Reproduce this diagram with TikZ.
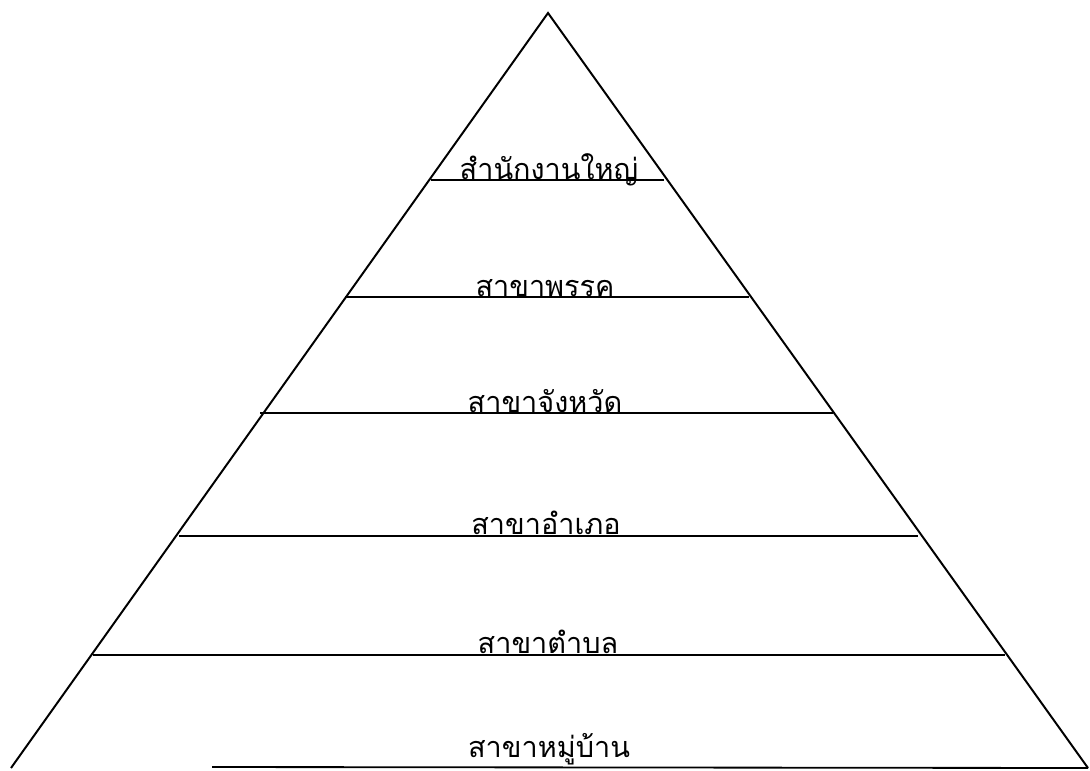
\documentclass[tikz,border=0pt]{standalone}
\usepackage{fontspec}
\newfontfamily\thaifont[Script=Thai]{Loma}
\usepackage{tikz}
\tikzset{
  px/.style={x=0.025cm, y=-0.025cm},
  side/.style={black, line width=1.4pt},
  tier/.style={black, line width=1.3pt},
  lbl/.style={font=\thaifont\fontsize{20.5}{24}\selectfont, anchor=base, inner sep=0pt},
}

\begin{document}
\begin{tikzpicture}[px]
  \useasboundingbox (0,0) rectangle (1090,770);
  \coordinate (apex) at (548,13);
  \coordinate (bl) at (11,768);
  \coordinate (br) at (1088,768);
  % outer sides
  \draw[side] (bl)--(apex)--(br);
  % tier lines, top to bottom
  \draw[tier] (431,180)--(664,180);
  \draw[tier] (345,297)--(749,297);
  \draw[tier] (260,413)--(833,413);
  \draw[tier] (179,536)--(918,536);
  \draw[tier] (93,655)--(1005,655);
  \draw[tier] (212,767)--(br);
  % tier labels
  \node[lbl] (hq)       at (549,179) {สำนักงานใหญ่};
  \node[lbl] (party)    at (545,296) {สาขาพรรค};
  \node[lbl] (province) at (545,412) {สาขาจังหวัด};
  \node[lbl] (district) at (546,534) {สาขาอำเภอ};
  \node[lbl] (subdist)  at (548,653) {สาขาตำบล};
  \node[lbl] (village)  at (549,757) {สาขาหมู่บ้าน};
\end{tikzpicture}
\end{document}
